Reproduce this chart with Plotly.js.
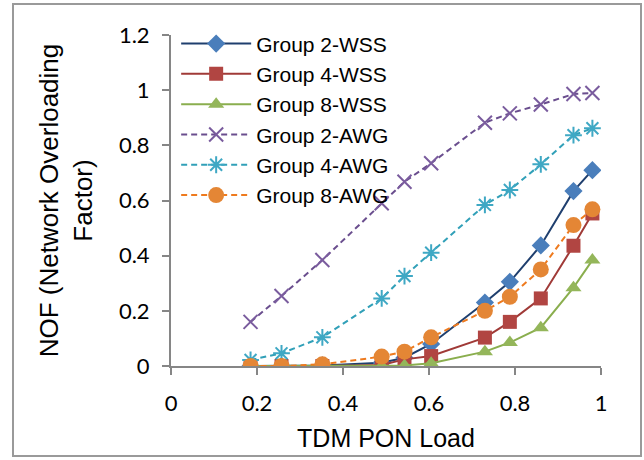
<!DOCTYPE html>
<html>
<head>
<meta charset="utf-8">
<script src="https://cdn.plot.ly/plotly-3.0.1.min.js"></script>
<style>
html,body{margin:0;padding:0;background:#fff;}
#wrap{position:relative;width:644px;height:460px;}
#chart{position:absolute;left:0;top:0;width:644px;height:460px;}
#frame{position:absolute;left:12px;top:3px;width:630px;height:454px;border:2px solid #9a9a9a;pointer-events:none;box-sizing:border-box;}
</style>
</head>
<body>
<div id="wrap"><div id="chart"></div><div id="frame"></div></div>
<script>
// TDM PON load (x values)
const load = [0.185, 0.257, 0.352, 0.49, 0.543, 0.605, 0.73, 0.788, 0.86, 0.936, 0.98];

const seriesNames = ["Group 2-WSS","Group 4-WSS","Group 8-WSS","Group 2-AWG","Group 4-AWG","Group 8-AWG"];

const group2WSS = [0, 0, 0.002, 0.012, 0.03, 0.08, 0.23, 0.305, 0.437, 0.634, 0.71];
const group4WSS = [0, 0, 0, 0.004, 0.024, 0.036, 0.103, 0.16, 0.245, 0.436, 0.553];
const group8WSS = [0, 0, 0, 0, 0.002, 0.01, 0.052, 0.085, 0.139, 0.284, 0.384];
const group2AWG = [0.16, 0.254, 0.384, 0.59, 0.668, 0.735, 0.882, 0.916, 0.948, 0.986, 0.99];
const group4AWG = [0.022, 0.046, 0.104, 0.245, 0.326, 0.411, 0.584, 0.638, 0.731, 0.837, 0.862];
const group8AWG = [0, 0, 0.006, 0.034, 0.052, 0.104, 0.2, 0.251, 0.35, 0.511, 0.568];

const xTicks = [0, 0.2, 0.4, 0.6, 0.8, 1];
const xTickText = ["0","0.2","0.4","0.6","0.8","1"];
const yTicks = [0, 0.2, 0.4, 0.6, 0.8, 1, 1.2];
const yTickText = ["0","0.2","0.4","0.6","0.8","1","1.2"];

const values = [group2WSS, group4WSS, group8WSS, group2AWG, group4AWG, group8AWG];
const lineColors = ["#1F3F6E","#A03A37","#8AAE4E","#6A4E8E","#31A0B8","#EE7A1E"];
const markerColors = ["#4A7EBB","#B14542","#94B65A","#7A5C9E","#3FA8C4","#E48635"];
const symbols = ["diamond","square","triangle-up","x-thin-open","asterisk-open","circle"];
const sizes = [14, 14, 14, 14, 14, 16];
const dashes = ["solid","solid","solid","6px,4px","6px,4px","6px,4px"];

const traces = values.map((v, i) => ({
  type: "scatter",
  mode: "lines+markers",
  name: seriesNames[i],
  x: load,
  y: v,
  line: {color: lineColors[i], width: 2, dash: dashes[i]},
  marker: {
    symbol: symbols[i],
    size: sizes[i],
    color: markerColors[i],
    line: {color: markerColors[i], width: (i === 3 || i === 4) ? 2 : 0}
  }
}));

const layout = {
  width: 644,
  height: 460,
  margin: {l: 171, r: 43, t: 35, b: 94},
  paper_bgcolor: "#ffffff",
  plot_bgcolor: "#ffffff",
  showlegend: true,
  legend: {
    x: 0.012, y: 1.035, xanchor: "left", yanchor: "top",
    bgcolor: "rgba(255,255,255,0)",
    font: {family: "Liberation Sans, Arial, sans-serif", size: 21, color: "#000"},
    itemwidth: 70,
    traceorder: "normal"
  },
  xaxis: {
    range: [0, 1],
    tickvals: xTicks,
    ticktext: xTickText,
    showgrid: false,
    zeroline: false,
    showline: true,
    linecolor: "#868686",
    linewidth: 2,
    ticks: "outside",
    ticklen: 7,
    tickwidth: 2,
    tickcolor: "#868686",
    ticklabelstandoff: 10,
    tickfont: {family: "Lato, Carlito, sans-serif", size: 22, color: "#000"},
    title: {text: "TDM PON Load", font: {family: "Liberation Sans, Arial, sans-serif", size: 25, color: "#000"}, standoff: 14}
  },
  yaxis: {
    range: [0, 1.2],
    tickvals: yTicks,
    ticktext: yTickText,
    showgrid: false,
    zeroline: false,
    showline: true,
    linecolor: "#868686",
    linewidth: 2,
    ticks: "outside",
    ticklen: 7,
    tickwidth: 2,
    tickcolor: "#868686",
    ticklabelstandoff: 8,
    tickfont: {family: "Lato, Carlito, sans-serif", size: 22, color: "#000"},
    title: {text: "NOF (Network Overloading<br>Factor)", font: {family: "Liberation Sans, Arial, sans-serif", size: 26, color: "#000"}, standoff: 19}
  }
};

Plotly.newPlot("chart", traces, layout, {displayModeBar: false, staticPlot: true});
</script>
</body>
</html>
